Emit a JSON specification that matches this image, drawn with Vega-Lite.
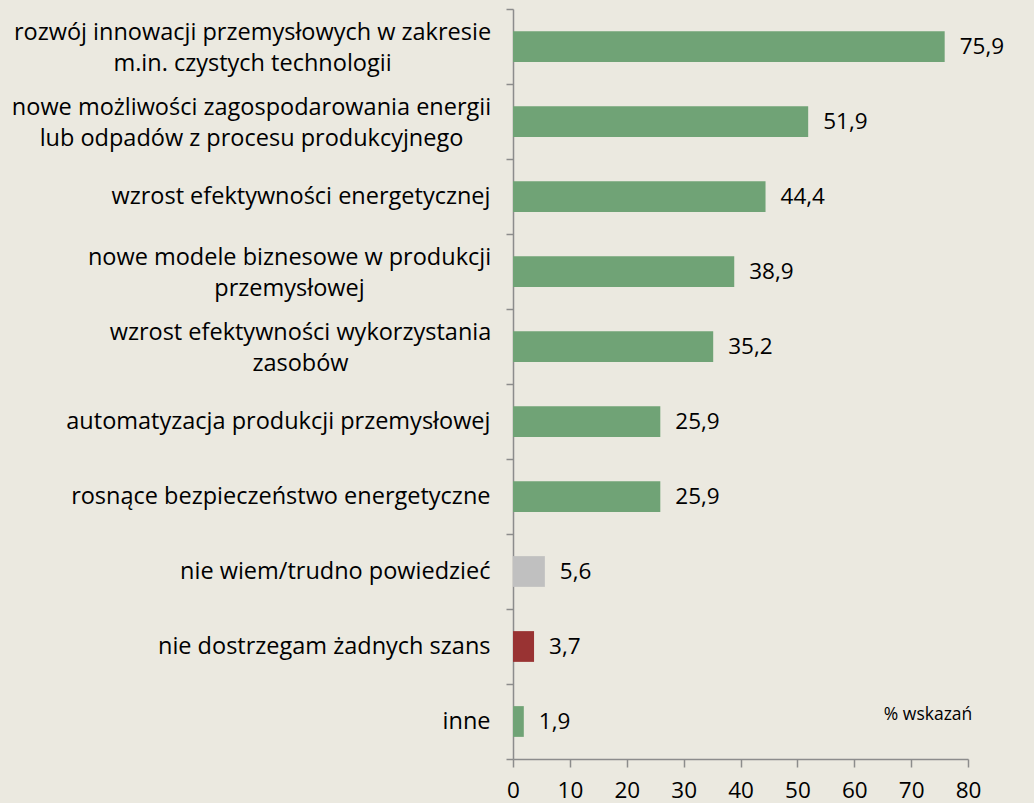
{
  "$schema": "https://vega.github.io/schema/vega-lite/v6.json",
  "width": 455,
  "height": 750,
  "autosize": "none",
  "padding": {"left": 513, "top": 9, "right": 66, "bottom": 44},
  "background": "#EBE9E0",
  "config": {
    "view": {"stroke": null},
    "font": "Open Sans",
    "locale": {"number": {"decimal": ",", "thousands": " ", "grouping": [3], "currency": ["", " zł"]}}
  },
  "data": {
    "values": [
      {"cat": "rozwój innowacji przemysłowych w zakresie|m.in. czystych technologii", "value": 75.9, "group": "szansa"},
      {"cat": "nowe możliwości zagospodarowania energii|lub odpadów z procesu produkcyjnego", "value": 51.9, "group": "szansa"},
      {"cat": "wzrost efektywności energetycznej", "value": 44.4, "group": "szansa"},
      {"cat": "nowe modele biznesowe w produkcji|przemysłowej", "value": 38.9, "group": "szansa"},
      {"cat": "wzrost efektywności wykorzystania|zasobów", "value": 35.2, "group": "szansa"},
      {"cat": "automatyzacja produkcji przemysłowej", "value": 25.9, "group": "szansa"},
      {"cat": "rosnące bezpieczeństwo energetyczne", "value": 25.9, "group": "szansa"},
      {"cat": "nie wiem/trudno powiedzieć", "value": 5.6, "group": "nie wiem"},
      {"cat": "nie dostrzegam żadnych szans", "value": 3.7, "group": "brak"},
      {"cat": "inne", "value": 1.9, "group": "szansa"}
    ]
  },
  "encoding": {
    "y": {
      "field": "cat",
      "type": "nominal",
      "sort": null,
      "scale": {"paddingInner": 0, "paddingOuter": 0},
      "axis": {
        "title": null,
        "labelExpr": "isString(datum.value) ? split(datum.value, '|') : ''",
        "labelFontSize": 23.5,
        "labelColor": "#000000",
        "labelLineHeight": 31,
        "labelAlign": {
          "condition": {"test": "isString(datum.value) && indexof(datum.value, '|') >= 0", "value": "center"},
          "value": "right"
        },
        "labelPadding": {
          "condition": [
            {"test": "isString(datum.value) && indexof(datum.value, 'rozwój') === 0", "value": 254},
            {"test": "isString(datum.value) && indexof(datum.value, 'nowe możliwości') === 0", "value": 255},
            {"test": "isString(datum.value) && indexof(datum.value, 'nowe modele') === 0", "value": 217},
            {"test": "isString(datum.value) && indexof(datum.value, 'wzrost efektywności wykorzystania') === 0", "value": 206}
          ],
          "value": 16
        },
        "labelOffset": {
          "condition": {"test": "isString(datum.value) && indexof(datum.value, '|') >= 0", "value": -14},
          "value": 0
        },
        "labelLimit": 600,
        "tickSize": 7,
        "tickBand": "extent",
        "tickColor": "#8C8C8C",
        "tickWidth": 1.5,
        "domainColor": "#8C8C8C",
        "domainWidth": 1.5
      }
    },
    "x": {
      "field": "value",
      "type": "quantitative",
      "scale": {"domain": [0, 80], "nice": false},
      "axis": {
        "title": null,
        "values": [0, 10, 20, 30, 40, 50, 60, 70, 80],
        "grid": false,
        "labelFontSize": 22.5,
        "labelColor": "#000000",
        "labelPadding": 12,
        "tickSize": 8,
        "tickColor": "#8C8C8C",
        "tickWidth": 1.5,
        "domainColor": "#8C8C8C",
        "domainWidth": 1.5,
        "labelFlush": false
      }
    }
  },
  "layer": [
    {
      "mark": {"type": "bar", "height": {"band": 0.41}},
      "encoding": {
        "color": {
          "field": "group",
          "type": "nominal",
          "scale": {"domain": ["szansa", "nie wiem", "brak"], "range": ["#70A376", "#C0C0C0", "#993333"]},
          "legend": null
        }
      }
    },
    {
      "mark": {"type": "text", "align": "left", "baseline": "middle", "dx": 15, "fontSize": 22.5, "color": "#000000"},
      "encoding": {
        "text": {"field": "value", "type": "quantitative", "format": ".1f"}
      }
    },
    {
      "data": {"values": [{"cat": "inne", "value": 65.2, "note": "% wskazań"}]},
      "mark": {"type": "text", "align": "left", "baseline": "middle", "dy": -7, "fontSize": 17.5, "color": "#000000"},
      "encoding": {
        "text": {"field": "note", "type": "nominal"}
      }
    }
  ]
}
